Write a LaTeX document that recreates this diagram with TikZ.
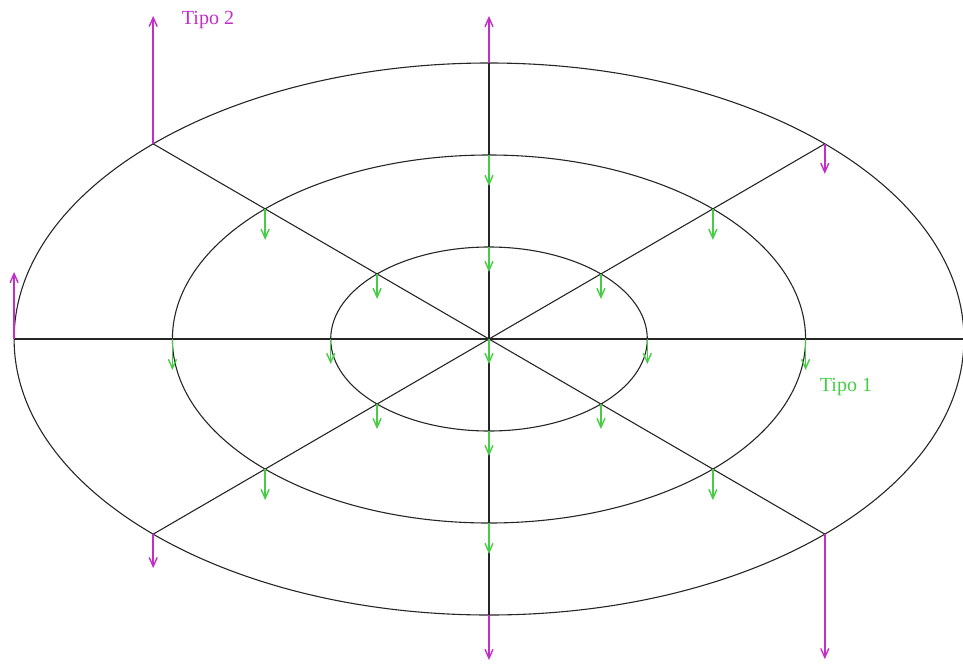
\documentclass[tikz,border=0pt]{standalone}
\usepackage{fontspec}
\setmainfont{Liberation Serif}
\usetikzlibrary{arrows.meta,calc}

\definecolor{tipoverde}{RGB}{70,205,70}
\definecolor{tipolila}{RGB}{195,45,200}

\begin{document}
\begin{tikzpicture}[x=0.5pt,y=0.5pt,
  rim/.style={draw=black!85,line width=0.55pt},
  carga/.style={-{Straight Barb[length=4.5pt,width=4pt]},line width=0.7pt},
  tipo1/.style={carga,draw=tipoverde},
  tipo2/.style={carga,draw=tipolila}]
  \useasboundingbox (0,0) rectangle (963,666);
  \coordinate (O) at (489,327);
  % rings and their points
  \foreach \k in {1,2,3}
    \draw[rim] (O) ellipse [x radius=158.3*\k, y radius=92*\k];
  \foreach \k in {1,2,3}
    \foreach \a in {0,45,...,315}
      \coordinate (p\k-\a) at ($(O)+(\a:{158.3*\k} and {92*\k})$);
  % diameters
  \draw[rim] (p3-180) -- (p3-0);
  \draw[rim] (p3-90) -- (p3-270);
  \draw[rim] (p3-135) -- (p3-315);
  \draw[rim] (p3-45) -- (p3-225);
  % type 1 loads
  \draw[tipo1] (O) -- ++(0,-25);
  \foreach \a in {0,45,...,315} {
    \draw[tipo1] (p1-\a) -- ++(0,-25);
    \draw[tipo1] (p2-\a) -- ++(0,-31);
  }
  % type 2 loads
  \foreach \a/\d in {135/128,90/47,180/67,45/-30,225/-34,270/-45,315/-125}
    \draw[tipo2] (p3-\a) -- ++(0,\d);
  \node[text=tipolila,font=\fontsize{10}{12}\selectfont] (t2) at (208,646) {Tipo 2};
  \node[text=tipoverde,font=\fontsize{10}{12}\selectfont] (t1) at (846,279) {Tipo 1};
\end{tikzpicture}
\end{document}
